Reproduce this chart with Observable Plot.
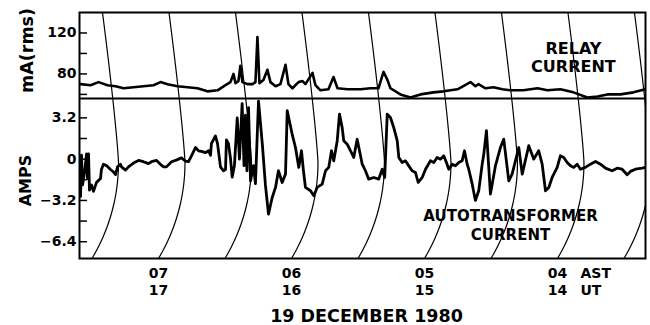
<!DOCTYPE html>
<html><head><meta charset="utf-8">
<script src="https://cdn.jsdelivr.net/npm/d3@7"></script>
<script src="https://cdn.jsdelivr.net/npm/@observablehq/plot@0.6"></script>
<style>
body{margin:0;background:#fff;}
#chart svg{display:block;}
</style></head><body><div id="chart"></div>
<script>
// ---- data (time in decimal hours AST, values in panel units) ----
const relayTime = [7.586,7.511,7.451,7.383,7.323,7.263,7.188,7.113,7.038,6.985,6.932,6.857,6.782,6.707,6.632,6.556,6.496,6.459,6.436,6.421,6.399,6.384,6.369,6.331,6.293,6.271,6.256,6.241,6.211,6.181,6.158,6.120,6.083,6.045,6.023,5.993,5.947,5.917,5.895,5.842,5.820,5.782,5.722,5.684,5.654,5.579,5.481,5.406,5.346,5.308,5.278,5.256,5.181,5.105,5.030,4.932,4.857,4.752,4.654,4.617,4.594,4.541,4.481,4.414,4.353,4.256,4.150,4.075,3.978,3.880,3.775,3.699,3.624,3.526,3.429,3.338];
const relayMA = [70,69,72,69,68,66,67,68,69,72,70,68,67,66,63,64,69,72,80,71,73,88,72,70,70,72,116,71,74,84,72,68,70,89,70,66,72,73,70,81,69,64,65,77,66,65,65,66,66,82,74,66,60,57,60,62,63,65,72,68,70,66,67,65,64,64,66,64,65,62,57,58,60,60,62,65];

const autoTime = [7.594,7.586,7.579,7.571,7.556,7.541,7.534,7.526,7.519,7.504,7.489,7.466,7.436,7.429,7.414,7.391,7.361,7.338,7.323,7.308,7.286,7.278,7.248,7.226,7.188,7.150,7.113,7.075,7.053,7.015,6.985,6.962,6.940,6.902,6.872,6.850,6.827,6.797,6.775,6.752,6.722,6.699,6.677,6.647,6.624,6.609,6.602,6.572,6.556,6.534,6.511,6.496,6.489,6.474,6.459,6.446,6.429,6.408,6.391,6.371,6.357,6.346,6.335,6.323,6.308,6.286,6.271,6.248,6.218,6.196,6.173,6.145,6.120,6.098,6.070,6.045,6.032,5.995,5.970,5.945,5.925,5.910,5.895,5.857,5.832,5.807,5.769,5.744,5.720,5.699,5.682,5.656,5.639,5.619,5.607,5.581,5.556,5.532,5.506,5.481,5.468,5.444,5.419,5.381,5.344,5.318,5.299,5.280,5.256,5.231,5.205,5.193,5.168,5.143,5.118,5.093,5.068,5.047,5.017,4.992,4.955,4.930,4.905,4.880,4.855,4.835,4.817,4.792,4.767,4.742,4.717,4.699,4.679,4.667,4.641,4.617,4.592,4.566,4.554,4.534,4.504,4.466,4.429,4.404,4.366,4.341,4.291,4.265,4.216,4.178,4.141,4.115,4.090,4.065,4.040,4.002,3.978,3.953,3.927,3.902,3.878,3.852,3.827,3.790,3.752,3.714,3.677,3.639,3.589,3.551,3.514,3.476,3.451,3.414,3.363,3.338];
const autoAmps = [-0.5,-2.9,0.3,-2.0,-1.0,0.4,-1.5,0.4,-2.4,-2.0,-2.5,-1.8,-1.5,-0.8,-0.4,-0.5,-0.8,-1.0,-1.2,-0.6,-0.4,-0.6,-0.85,-0.6,-0.3,-0.1,-0.2,-0.35,-0.2,-0.1,-0.4,-0.6,-0.6,-0.2,-0.1,0,0.1,-0.15,-0.2,0.25,0.9,0.65,0.6,0.5,0.65,0.3,1.2,1.8,1.2,-0.6,-0.9,-0.8,1.5,1.2,0.1,-1.4,-0.5,3.2,0.0,4.3,-0.5,3.4,-0.9,4.0,-1.7,-0.5,-1.9,4.5,1.0,-2.0,-4.26,-2.97,-2.19,-0.9,-1.81,-1.16,3.75,1.94,0.9,-0.64,0.65,-0.9,-2.19,-2.45,-2.84,-2.19,-1.94,-0.9,-0.64,0.65,-0.13,1.43,3.49,2.45,1.43,1.16,0.65,0.13,1.54,0.26,-0.39,-0.9,-1.55,-1.42,-1.55,-0.78,-1.42,3.49,3.23,2.45,1.43,0.13,-0.26,-0.13,-0.52,-0.9,-1.03,-1.81,-1.42,-0.78,-0.13,-0.26,0.13,0.0,0.26,-0.26,-0.78,-0.39,-0.52,-0.26,-0.13,0.65,-0.39,-0.78,-1.94,-3.2,-2.45,-0.39,0.39,2.2,-2.71,-0.5,0.9,1.55,-1.68,-1.16,0.9,-1.16,1.04,0,0.65,-0.39,-2.45,-2.19,-1.42,-0.64,0.26,0.13,-0.26,-0.52,-0.64,-0.39,-0.78,-0.64,-0.39,-0.18,-0.39,-0.7,-0.9,-0.7,-0.78,-1.21,-0.95,-0.78,-0.7,-0.64];

const hourTicks = [7, 6, 5, 4];
const astLabels = ["07", "06", "05", "04"];
const utLabels = ["17", "16", "15", "14"];
const zoneLabels = ["AST", "UT"];
const arcTimes = [7.5, 7, 6.5, 6, 5.5, 5, 4.5, 4, 3.5];
const relayTicks = [60, 80, 100, 120];
const relayTickLabels = [80, 120];
const ampsTicks = [-6.4, -4.8, -3.2, -1.6, 0, 1.6, 3.2];
const ampsTickLabels = [-6.4, -3.2, 0, 3.2];
const relayName = "RELAY\nCURRENT";
const autoName = "AUTOTRANSFORMER\nCURRENT";
const relayUnit = "mA(rms)";
const autoUnit = "AMPS";
const dateLabel = "19 DECEMBER 1980";

// ---- layout ----
const W = 650, ML = 79, MR = 5;
const xDomain = [7.594, 3.338];
const topDomain = [56, 140];
const botDomain = [-7.7, 4.7];
const TOP_H = 98, TOP_MT = 12;
const BOT_H = 227, BOT_MB = 67, BOT_OFF = 98;

const xs = Plot.scale({x: {domain: xDomain, range: [ML, W - MR]}});
const ysTop = Plot.scale({y: {domain: topDomain, range: [TOP_H, TOP_MT]}});
const ysBot = Plot.scale({y: {domain: botDomain, range: [BOT_H - BOT_MB, 0]}});

// recorder pen arcs: horizontal pixel bulge of a constant-time arc at page row py
const APEX_Y = 162, APEX_DX = 26.5, ARC_R = 187, ARC_K = 0.0392, FRAME_BOTTOM = 258;
function bulge(py) {
  const d = py - APEX_Y;
  if (d <= 0) return APEX_DX - ARC_K * Math.pow(-d, 1.2);
  return APEX_DX - (ARC_R - Math.sqrt(Math.max(0, ARC_R * ARC_R - d * d)));
}
function arcRows(y0, y1, ys, off) {
  const rows = [];
  for (const t of arcTimes) for (let py = y0; py <= y1 + 0.01; py += 2)
    rows.push({t, x: xs.invert(xs.apply(t) + bulge(py)), y: ys.invert(py - off)});
  return rows;
}

const style = {fontFamily: "DejaVu Sans", fontWeight: "bold", fontSize: "14px", background: "white", color: "black"};
const relay = relayTime.map((t, i) => ({t, v: relayMA[i]}));
const auto = autoTime.map((t, i) => ({t, v: autoAmps[i]}));

const topPlot = Plot.plot({
  width: W, height: TOP_H, marginTop: TOP_MT, marginBottom: 0, marginLeft: ML, marginRight: MR,
  x: {domain: xDomain, axis: null},
  y: {domain: topDomain},
  style,
  marks: [
    Plot.line(arcRows(TOP_MT, TOP_H, ysTop, 0), {x: "x", y: "y", z: "t", stroke: "black", strokeWidth: 1.2, clip: true}),
    Plot.line(relay, {x: "t", y: "v", stroke: "black", strokeWidth: 2.6, strokeLinejoin: "round", strokeLinecap: "round", clip: true}),
    Plot.ruleY(relayTicks, {y: d => d, x1: xDomain[0], x2: xDomain[0], insetRight: -8, strokeWidth: 1.5}),
    Plot.axisY({ticks: relayTickLabels, tickSize: 0, tickPadding: 3, fontSize: 14, label: null}),
    Plot.text([relayName], {x: 3.88, y: 96, text: d => d, fontSize: 16, lineHeight: 1.1}),
    Plot.text([relayUnit], {frameAnchor: "left", textAnchor: "middle", rotate: -90, dx: -52.5, dy: -5, text: d => d, fontSize: 17.5}),
    Plot.frame({stroke: "black", strokeWidth: 2})
  ]
});

const bottomPlot = Plot.plot({
  width: W, height: BOT_H, marginTop: 0, marginBottom: BOT_MB, marginLeft: ML, marginRight: MR,
  x: {domain: xDomain, axis: null},
  y: {domain: botDomain},
  style,
  marks: [
    Plot.line(arcRows(BOT_OFF, FRAME_BOTTOM, ysBot, BOT_OFF), {x: "x", y: "y", z: "t", stroke: "black", strokeWidth: 1.2, clip: true}),
    Plot.line(auto, {x: "t", y: "v", stroke: "black", strokeWidth: 2.8, strokeLinejoin: "round", strokeLinecap: "round", clip: true}),
    Plot.ruleY(ampsTicks, {y: d => d, x1: xDomain[0], x2: xDomain[0], insetRight: -8, strokeWidth: 1.5}),
    Plot.axisY({ticks: ampsTickLabels, tickSize: 0, tickPadding: 3, fontSize: 14, label: null, tickFormat: d => d === 0 ? "0" : d3.format(".1f")(d).replace("-", "\u2212")}),
    Plot.text([autoName], {x: 4.353, y: -5.06, text: d => d, fontSize: 15, lineHeight: 1.25}),
    Plot.text([autoUnit], {frameAnchor: "left", textAnchor: "middle", rotate: -90, dx: -54, dy: 2, text: d => d, fontSize: 16}),
    Plot.text(hourTicks, {x: d => d, frameAnchor: "bottom", lineAnchor: "top", dy: 7, text: (d, i) => astLabels[i] + "\n" + utLabels[i], fontSize: 14, lineHeight: 1.25}),
    Plot.text([zoneLabels.join("\n")], {x: hourTicks[3], frameAnchor: "bottom", lineAnchor: "top", dy: 7, dx: 23, textAnchor: "start", text: d => d, fontSize: 14, lineHeight: 1.25}),
    Plot.text([dateLabel], {frameAnchor: "bottom", lineAnchor: "top", dy: 51, dx: 4, text: d => d, fontSize: 17.5}),
    Plot.frame({stroke: "black", strokeWidth: 2})
  ]
});

document.getElementById("chart").append(topPlot, bottomPlot);
</script>
</body></html>
